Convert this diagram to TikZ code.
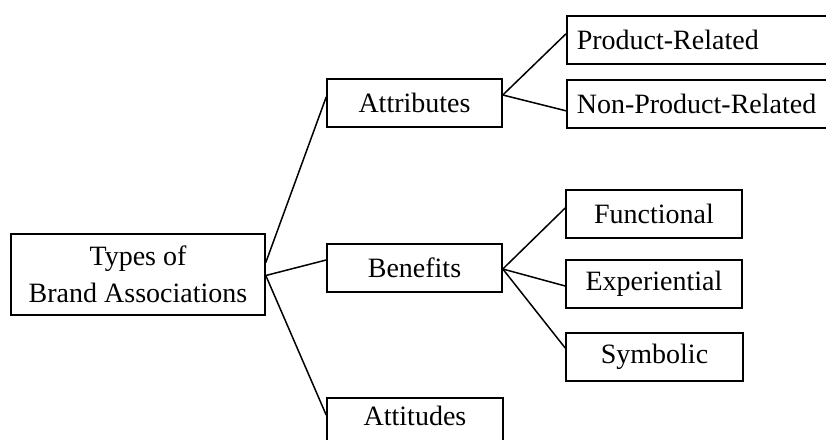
\documentclass[tikz,border=0pt]{standalone}
\usepackage{fontspec}
\setmainfont{Liberation Serif}
\begin{document}
\begin{tikzpicture}[x=1pt,y=-1pt,
  box/.style={draw, line width=1.6pt, inner sep=0pt, minimum height=48pt},
  conn/.style={line width=1.5pt},
  every node/.style={font=\fontsize{28}{37}\selectfont}]
\useasboundingbox (0,0) rectangle (826,439);
\clip (0,0) rectangle (826,439);
% root
\node[box, minimum width=254pt, minimum height=81pt, align=center] (types) at (138,274.5) {Types of\\Brand Associations};
% level 1
\node[box, minimum width=175pt] (attr) at (414.5,103) {Attributes};
\node[box, minimum width=175pt] (ben) at (414.5,268) {Benefits};
\node[box, minimum width=176pt, anchor=north, inner ysep=0pt, text height=28pt, text depth=30pt] (att) at (415,397) {Attitudes};
% level 2
\node[box, anchor=north west, text width=270pt, inner xsep=10pt, align=left] (prod) at (566,15) {Product-Related};
\node[box, anchor=north west, text width=270pt, inner xsep=10pt, align=left] (nonprod) at (566,79) {Non-Product-Related};
\node[box, minimum width=176pt] (func) at (654,214) {Functional};
\node[box, minimum width=176pt] (exp) at (654,284) {Experiential};
\node[box, minimum width=177pt] (sym) at (654.5,357) {Symbolic};
% connectors
\coordinate (tA) at ([yshift=12pt]types.east);
\coordinate (tB) at ([yshift=-1pt]types.east);
\draw[conn] (tA) -- ([yshift=6pt]attr.west);
\draw[conn] (tB) -- ([yshift=8pt]ben.west);
\draw[conn] (tB) -- ([yshift=-18pt]att.north west);
\coordinate (aR) at ([yshift=8pt]attr.east);
\draw[conn] (aR) -- ([yshift=6pt]prod.west);
\draw[conn] (aR) -- ([yshift=-7pt]nonprod.west);
\coordinate (bR) at ([yshift=-1pt]ben.east);
\draw[conn] (bR) -- ([yshift=6pt]func.west);
\draw[conn] (bR) -- ([yshift=-2pt]exp.west);
\draw[conn] (bR) -- ([yshift=9pt]sym.west);
\end{tikzpicture}
\end{document}
